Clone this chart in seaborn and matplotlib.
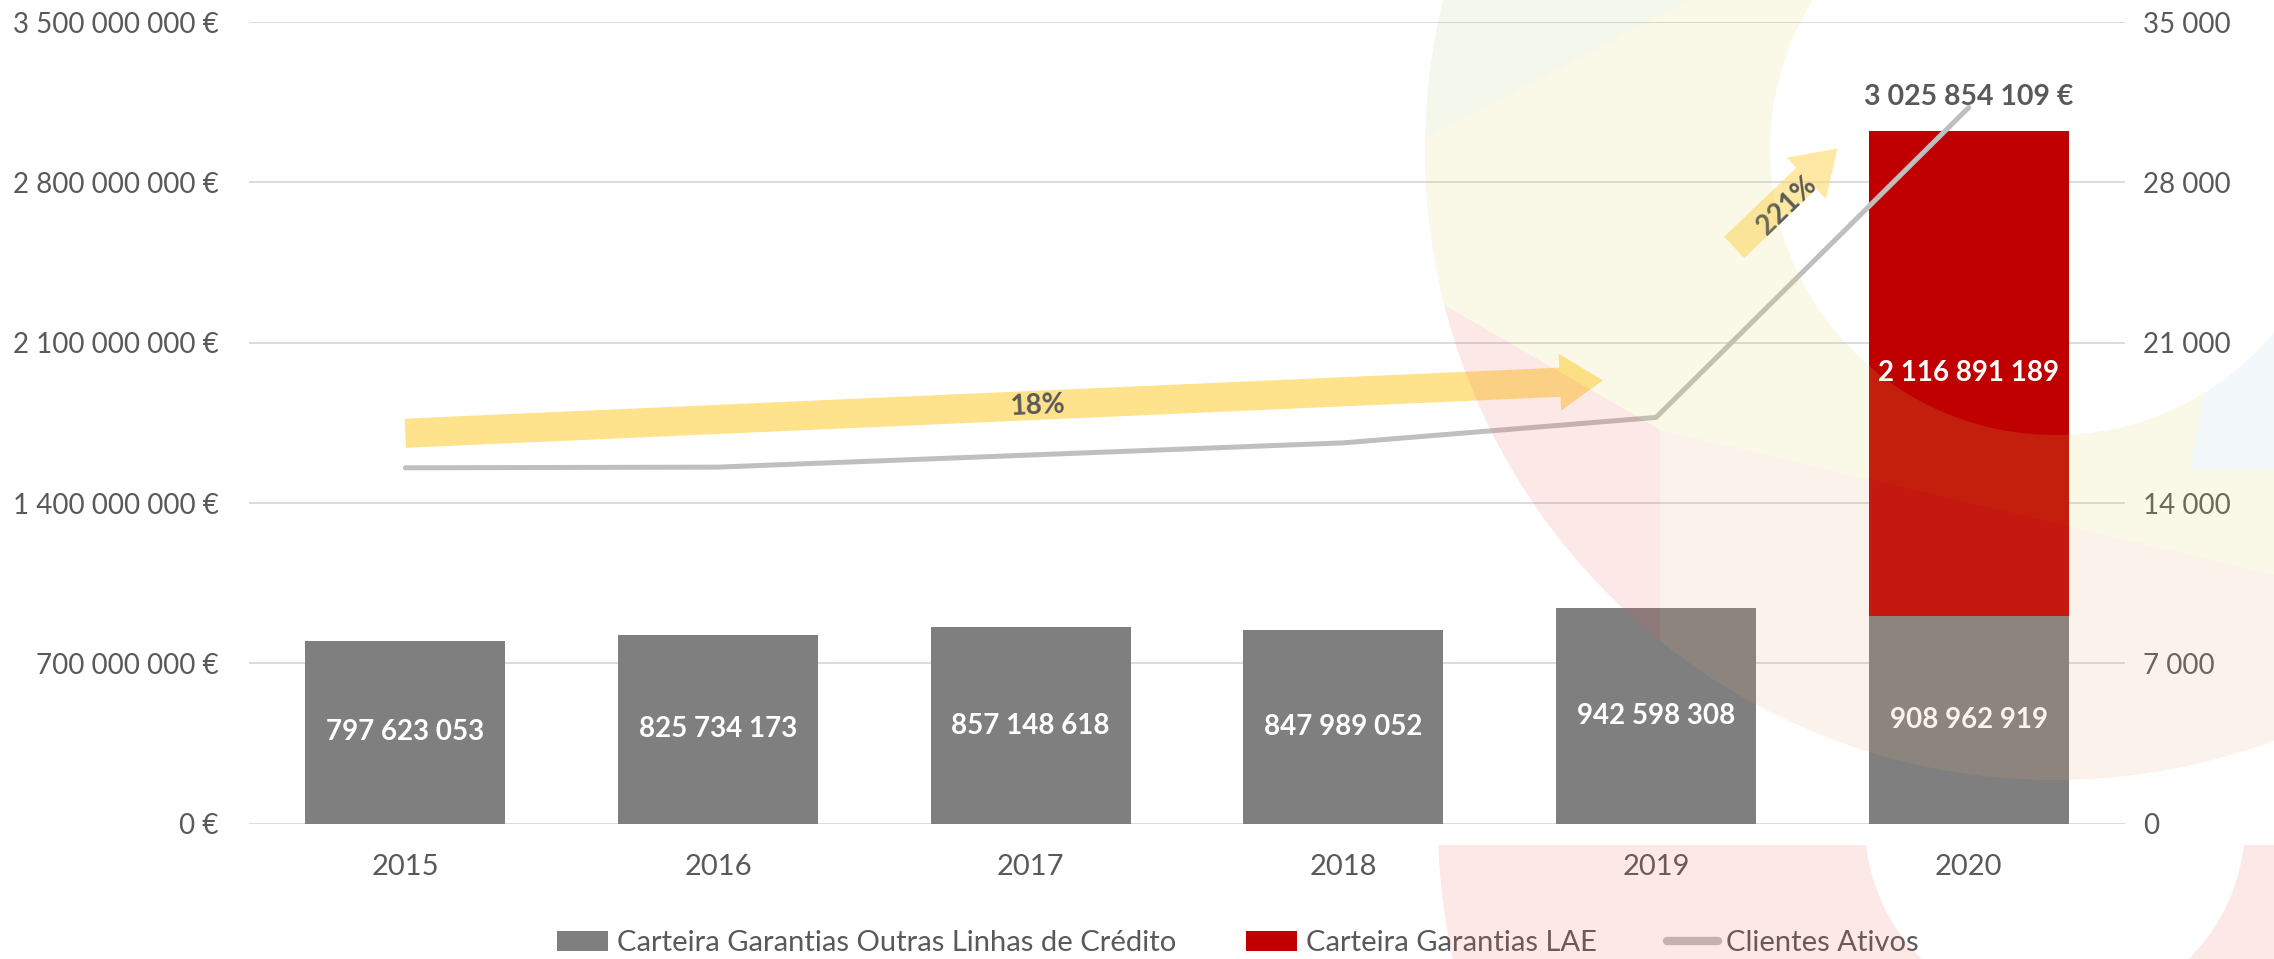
import numpy as np
import pandas as pd
import matplotlib
matplotlib.use("Agg")
import matplotlib.pyplot as plt
from matplotlib.patches import Wedge, Polygon, Rectangle, Patch
from matplotlib.lines import Line2D
from matplotlib.ticker import FuncFormatter, MultipleLocator
import seaborn as sns

# data
years = ["2015", "2016", "2017", "2018", "2019", "2020"]
outras_linhas = [797623053, 825734173, 857148618, 847989052, 942598308, 908962919]
lae = [0, 0, 0, 0, 0, 2116891189]
clientes_ativos = [15540, 15570, 16100, 16630, 17740, 31270]
total_label = "3 025 854 109 €"

labels = ["Carteira Garantias Outras Linhas de Crédito",
          "Carteira Garantias LAE", "Clientes Ativos"]

# growth arrows (tail x, tail y, tip x, tip y on the clients axis), text pos
growth_text = ["18%", "221%"]
growth_arrows = [(0.0, 17050, 3.83, 19360), (4.25, 25165, 4.58, 29480)]
growth_text_pos = [(2.02, 18230, 2.5), (4.42, 27000, 44)]

GRAY = "#7F7F7F"
RED = "#C00000"
LINE = "#BFBFBF"
TXT = "#595959"
GRID = "#D9DCE1"
ARROW = "#FFD966"

sns.set_theme(style="white")
plt.rcParams["font.family"] = ["Lato", "DejaVu Sans"]


def space_thousands(v):
    return f"{v:,.0f}".replace(",", " ")


df = pd.DataFrame({"ano": years, "outras": outras_linhas, "lae": lae})
df["total"] = df["outras"] + df["lae"]

fig = plt.figure(figsize=(22.74, 9.59), dpi=100)
fig.patch.set_facecolor("white")
ax = fig.add_axes([0.1095, 0.141, 0.825, 0.836])
ax.set_facecolor("none")

# stacked bars: total in red, then the grey part on top of it
sns.barplot(data=df, x="ano", y="total", color=RED, saturation=1, width=0.64,
            linewidth=0, ax=ax)
sns.barplot(data=df, x="ano", y="outras", color=GRAY, saturation=1, width=0.64,
            linewidth=0, ax=ax)

ax.set_xlim(-0.5, 5.5)
ax.set_ylim(0, 3.5e9)
ax.yaxis.set_major_locator(MultipleLocator(7e8))
ax.yaxis.set_major_formatter(FuncFormatter(lambda v, p: space_thousands(v) + " €"))
ax.grid(axis="y", color=GRID, lw=1.4)
ax.set_axisbelow(True)
for s in ax.spines.values():
    s.set_visible(False)
ax.set_xlabel("")
ax.set_ylabel("")
ax.tick_params(axis="y", length=0, pad=22, labelsize=20, labelcolor=TXT)
ax.tick_params(axis="x", length=0, pad=22, labelsize=21, labelcolor=TXT)

for i, row in df.iterrows():
    ax.text(i, row["outras"] / 2, space_thousands(row["outras"]), ha="center", va="center",
            color="white", fontsize=20, fontweight="bold")
    if row["lae"] > 0:
        ax.text(i, row["outras"] + row["lae"] / 2, space_thousands(row["lae"]),
                ha="center", va="center", color="white", fontsize=20, fontweight="bold")
        ax.annotate(total_label, (i, row["total"]), xytext=(0, 24), textcoords="offset points",
                    ha="center", va="center", color=TXT, fontsize=20.5, fontweight="bold")

# clients line on secondary axis
ax2 = ax.twinx()
sns.lineplot(x=np.arange(len(years)), y=clientes_ativos, color=LINE, lw=3.6, ax=ax2,
             solid_capstyle="round")
ax2.set_ylim(0, 35000)
ax2.yaxis.set_major_locator(MultipleLocator(7000))
ax2.yaxis.set_major_formatter(FuncFormatter(lambda v, p: space_thousands(v)))
ax2.tick_params(axis="y", length=0, pad=13, labelsize=20, labelcolor=TXT)
for s in ax2.spines.values():
    s.set_visible(False)
ax2.grid(False)

# yellow growth arrows, with the little striped tail
for (x0, y0, x1, y1), alpha in zip(growth_arrows, [0.75, 0.6]):
    ax2.annotate("", xy=(x1, y1), xytext=(x0, y0),
                 arrowprops=dict(arrowstyle="simple,head_length=1.55,head_width=2.05,tail_width=1.05",
                                 mutation_scale=20, fc=ARROW, ec="none", alpha=alpha,
                                 shrinkA=0, shrinkB=0))
    # white gaps across the tail
    p0 = ax2.transData.transform((x0, y0))
    p1 = ax2.transData.transform((x1, y1))
    d = (p1 - p0) / np.hypot(*(p1 - p0))
    n = np.array([-d[1], d[0]])
    for k in (3.0, 6.5):
        c = p0 + d * k
        a, b = c + n * 16, c - n * 16
        ax2.plot([a[0], b[0]], [a[1], b[1]], color="white", lw=1.0, transform=None,
                 solid_capstyle="butt")
for txt, (x, y, rot) in zip(growth_text, growth_text_pos):
    ax2.text(x, y, txt, ha="center", va="center", rotation=rot, color=TXT,
             fontsize=20, fontweight="bold")

# legend
handles = [Patch(color=GRAY, lw=0), Patch(color=RED, lw=0), Line2D([], [], color=LINE, lw=6)]
fig.legend(handles, labels, loc="center", bbox_to_anchor=(0.5444, 0.0167), ncol=3,
           frameon=False, fontsize=21, handlelength=1.75, handletextpad=0.3,
           columnspacing=2.4, labelcolor=TXT)

# faint logo rings laid over the chart (pixel coordinates)
ov = fig.add_axes([0, 0, 1, 1], zorder=10)
ov.set_facecolor("none")
ov.set_xlim(0, 2274)
ov.set_ylim(959, 0)
ov.axis("off")

cx, cy, r_out, r_in = 2055, 150, 630, 285
ring = Wedge((cx, cy), r_out, 0, 360, width=r_out - r_in, transform=ov.transData)
regions = [
    # cream
    ("#DED058", 0.15, [(1690, 0), (2274, 0), (2274, 330), (2215, 330), (2190, 470), (2274, 470),
                       (2274, 575), (1660, 430), (1380, 268), (1380, 140), (1420, 140)]),
    # pink
    ("#E45F58", 0.14, [(1380, 268), (1660, 430), (1660, 959), (1380, 959)]),
    # peach
    ("#E4AF73", 0.14, [(1660, 430), (2274, 575), (2274, 959), (1660, 959)]),
    # green
    ("#AFC373", 0.13, [(1380, 0), (1690, 0), (1420, 140), (1380, 140)]),
    # blue
    ("#8CC3D2", 0.10, [(2215, 330), (2274, 330), (2274, 470), (2190, 470)]),
]
for col, a, pts in regions:
    poly = Polygon(pts, closed=True, fc=col, ec="none", alpha=a)
    ov.add_patch(poly)
    poly.set_clip_path(ring)

low_ring = Wedge((2055, 824), 617, 0, 360, width=427, fc="#E45F58", ec="none", alpha=0.14)
ov.add_patch(low_ring)
low_ring.set_clip_path(Rectangle((0, 845), 2274, 114, transform=ov.transData))

fig.savefig("out.png", dpi=100)
